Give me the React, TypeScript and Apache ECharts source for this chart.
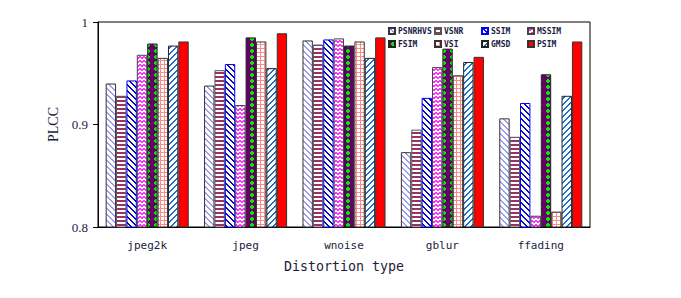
import React, { useEffect, useRef } from "react";
import * as echarts from "echarts";

const categories = ["jpeg2k", "jpeg", "wnoise", "gblur", "ffading"];
const seriesNames = ["PSNRHVS", "VSNR", "SSIM", "MSSIM", "FSIM", "VSI", "GMSD", "PSIM"];
const psnrhvs = [0.940, 0.938, 0.982, 0.873, 0.906];
const vsnr = [0.928, 0.953, 0.978, 0.895, 0.888];
const ssim = [0.943, 0.959, 0.983, 0.926, 0.921];
const mssim = [0.968, 0.919, 0.984, 0.956, 0.811];
const fsim = [0.979, 0.985, 0.977, 0.974, 0.949];
const vsi = [0.965, 0.981, 0.981, 0.948, 0.815];
const gmsd = [0.977, 0.955, 0.965, 0.961, 0.928];
const psim = [0.981, 0.989, 0.985, 0.966, 0.981];
const yTicks = [0.8, 0.9, 1];

type Px = (i: number, j: number) => string;

function tile(w: number, h: number, fn: Px) {
  const c = document.createElement("canvas");
  c.width = w;
  c.height = h;
  const ctx = c.getContext("2d")!;
  for (let j = 0; j < h; j++) {
    for (let i = 0; i < w; i++) {
      ctx.fillStyle = fn(i, j);
      ctx.fillRect(i, j, 1, 1);
    }
  }
  return { image: c, repeat: "repeat", imageWidth: w, imageHeight: h } as any;
}

function makePatterns() {
  const back = (n: number, wd: number, fg: string, bg: string) =>
    tile(n, n, (i, j) => (((i - j) % n) + n) % n < wd ? fg : bg);
  const fwd = (n: number, wd: number, fg: string, bg: string) =>
    tile(n, n, (i, j) => (i + j) % n < wd ? fg : bg);
  const p1 = back(6, 2, "#9c9cf0", "#ffffff");
  const p2 = tile(4, 4, (i, j) => (j < 2 ? "#993366" : "#ffffff"));
  const p3 = back(6, 2, "#0000ff", "#ffffc8");
  const p4 = tile(4, 4, (i, j) => {
    const z = [0, 1, 1, 0];
    return j === z[i] || j === z[i] + 1 ? "#ff33ff" : "#ffffff";
  });
  const p5 = tile(8, 6, (i, j) => {
    const dx = Math.abs(i + 0.5 - 4) / 2.9;
    const dy = Math.abs(j + 0.5 - 3) / 2.7;
    return dx + dy <= 1 ? "#00ee00" : "#660066";
  });
  const p6 = tile(4, 4, (i, j) => (i === 0 || j === 0 ? "#ff8888" : "#ffffff"));
  const p7 = fwd(6, 2, "#1a70cc", "#ffffff");
  return [p1, p2, p3, p4, p5, p6, p7, "#ff0000"];
}

const borderColors = ["#333", "#555", "#0000ff", "#444", "#222", "#333", "#222", "#333"];

export default function App() {
  const ref = useRef<HTMLDivElement>(null);
  useEffect(() => {
    if (!ref.current) return;
    const chart = echarts.init(ref.current, null, { renderer: "svg" });
    const fills = makePatterns();
    const values = [psnrhvs, vsnr, ssim, mssim, fsim, vsi, gmsd, psim];
    const colX = [388, 434, 481, 527];
    const rowY = [27, 40];
    const legends = seriesNames.map((name, k) => ({
      data: [name],
      left: colX[k % 4],
      top: rowY[Math.floor(k / 4)],
      padding: 0,
      itemWidth: 6,
      itemHeight: 6,
      itemGap: 3,
      icon: "rect",
      selectedMode: false,
      textStyle: {
        fontFamily: "DejaVu Sans Mono",
        fontSize: 8,
        fontWeight: "bold",
        color: "#1c1c44",
        padding: [0, 0, 0, -2],
      },
    }));
    chart.setOption({
      animation: false,
      backgroundColor: "#ffffff",
      legend: legends,
      grid: {
        left: 98,
        right: 91,
        top: 22,
        bottom: 71,
        show: true,
        borderColor: "#000",
        borderWidth: 1,
      },
      xAxis: {
        type: "category",
        data: categories,
        name: "Distortion type",
        nameLocation: "middle",
        nameGap: 33,
        nameTextStyle: { fontFamily: "DejaVu Sans Mono", fontSize: 13.3, color: "#1c1c3c" },
        axisLine: { lineStyle: { color: "#000", width: 1 } },
        axisTick: { inside: true, length: 4, lineStyle: { color: "#000" } },
        axisLabel: { fontFamily: "DejaVu Sans Mono", fontSize: 11, color: "#1c1c3c", margin: 13 },
      },
      yAxis: {
        type: "value",
        min: yTicks[0],
        max: yTicks[yTicks.length - 1],
        interval: 0.1,
        name: "PLCC",
        nameLocation: "middle",
        nameRotate: 90,
        nameGap: 36,
        nameTextStyle: { fontFamily: "Liberation Serif", fontSize: 14, color: "#1c1c3c" },
        axisLine: { show: true, lineStyle: { color: "#000", width: 1 } },
        axisTick: { show: true, inside: false, length: 5, lineStyle: { color: "#000" } },
        splitLine: { show: false },
        axisLabel: {
          fontFamily: "Liberation Serif",
          fontSize: 13,
          color: "#1c1c44",
          margin: 10,
          formatter: (v: number) => (Math.abs(v - 1) < 1e-9 ? "1" : v.toFixed(1)),
        },
      },
      series: seriesNames.map((name, k) => ({
        name,
        type: "bar",
        data: values[k],
        barGap: "0%",
        barCategoryGap: "15.6%",
        itemStyle: {
          color: fills[k],
          borderColor: borderColors[k],
          borderWidth: 1,
        },
      })),
    });
    return () => chart.dispose();
  }, []);
  return <div ref={ref} style={{ width: 681, height: 298, position: "absolute", left: 0, top: 0 }} />;
}
